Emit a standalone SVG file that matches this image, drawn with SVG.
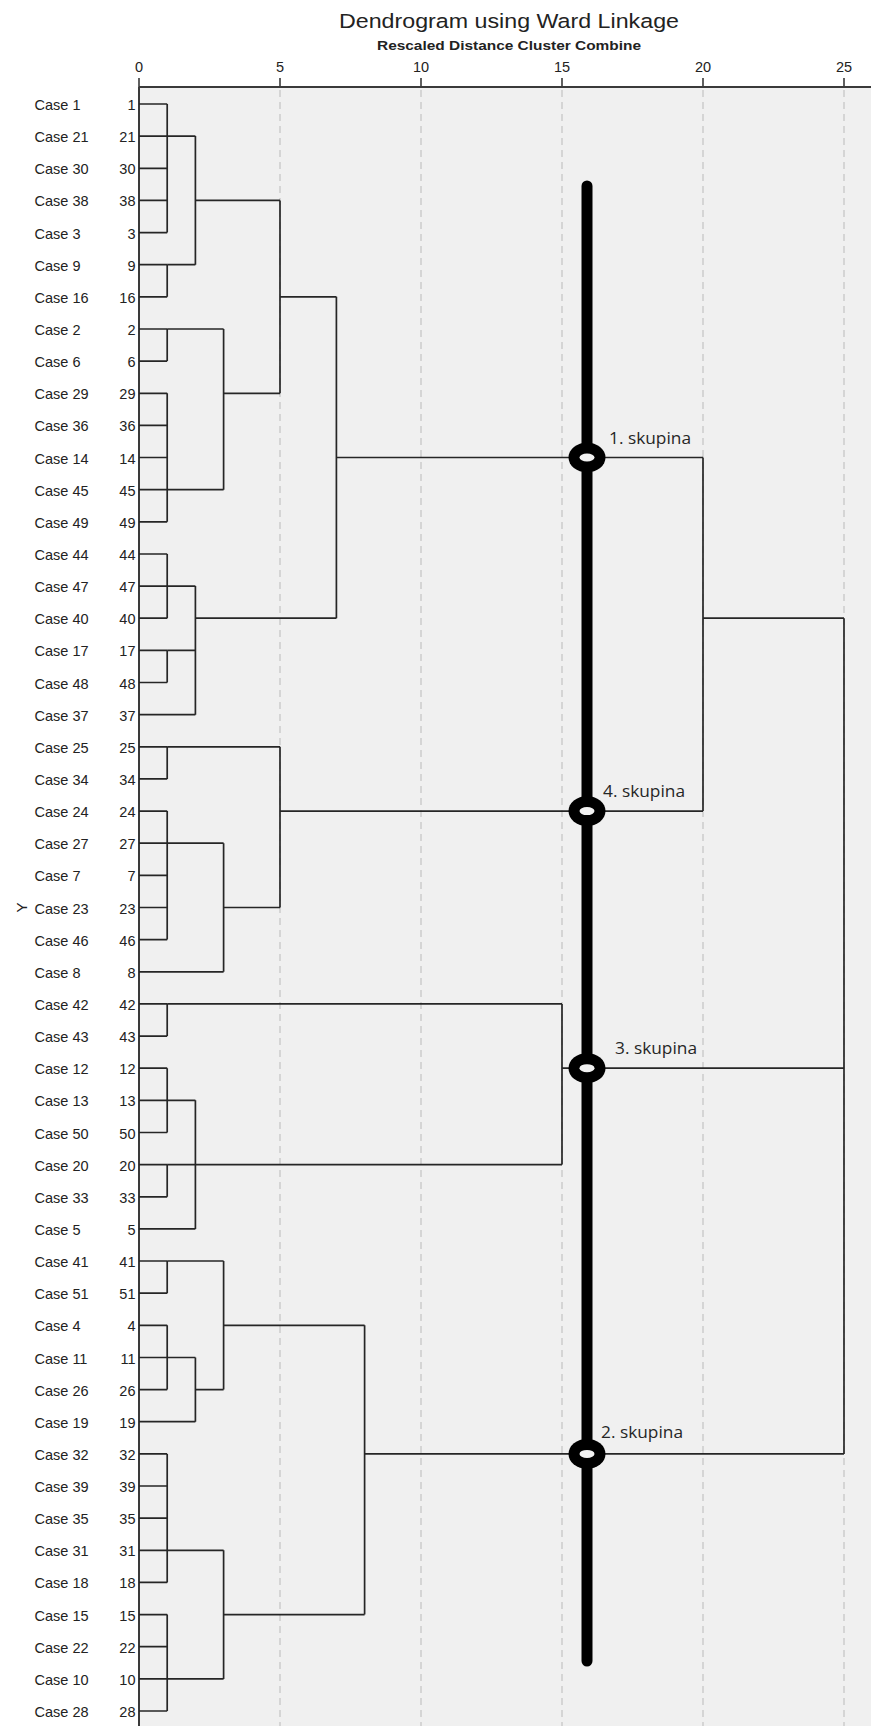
<svg xmlns="http://www.w3.org/2000/svg" width="871" height="1726" viewBox="0 0 871 1726">
<style>
text{font-family:"Liberation Sans",Arial,sans-serif;fill:#222}
.lbl text{font-size:14.5px}
.lbl .num{text-anchor:end}
.tick{font-size:14.5px;text-anchor:middle}
.grid line{stroke:#c4c4c4;stroke-width:1.2;stroke-dasharray:7 5}
.axis{stroke:#3a3a3a;stroke-width:2;fill:none}
.tk{stroke:#3a3a3a;stroke-width:1.6}
.dend path{stroke:#262626;stroke-width:1.7;fill:none}
.sk text{font-family:"Open Sans","Noto Sans",sans-serif;font-size:16px;fill:#262626}
</style>
<rect x="0" y="0" width="871" height="1726" fill="#ffffff"/>
<rect x="139" y="87" width="732" height="1639" fill="#f0f0f0"/>
<g id="grid" class="grid">
<line x1="280" y1="90" x2="280" y2="1726"/>
<line x1="421" y1="90" x2="421" y2="1726"/>
<line x1="562" y1="90" x2="562" y2="1726"/>
<line x1="703" y1="90" x2="703" y2="1726"/>
<line x1="844" y1="90" x2="844" y2="1726"/>
</g>
<g id="title">
<text x="509" y="28" font-size="20.5" text-anchor="middle" textLength="340" lengthAdjust="spacingAndGlyphs">Dendrogram using Ward Linkage</text>
<text x="509" y="50" font-size="13" font-weight="bold" text-anchor="middle" textLength="264" lengthAdjust="spacingAndGlyphs">Rescaled Distance Cluster Combine</text>
</g>
<g id="axis">
<path class="axis" d="M139 87 H871 M139 87 V1726"/>
<path class="tk" d="M139 78 V87 M280 78 V87 M421 78 V87 M562 78 V87 M703 78 V87 M844 78 V87"/>
<text class="tick" x="139" y="72">0</text>
<text class="tick" x="280" y="72">5</text>
<text class="tick" x="421" y="72">10</text>
<text class="tick" x="562" y="72">15</text>
<text class="tick" x="703" y="72">20</text>
<text class="tick" x="844" y="72">25</text>
<text x="0" y="0" font-size="15" text-anchor="middle" transform="translate(26.5,907.5) rotate(-90)">Y</text>
</g>
<g id="labels" class="lbl">
<g id="case-1"><text x="34.5" y="110">Case 1</text><text class="num" x="135.5" y="110">1</text></g>
<g id="case-21"><text x="34.5" y="142.1">Case 21</text><text class="num" x="135.5" y="142.1">21</text></g>
<g id="case-30"><text x="34.5" y="174.3">Case 30</text><text class="num" x="135.5" y="174.3">30</text></g>
<g id="case-38"><text x="34.5" y="206.4">Case 38</text><text class="num" x="135.5" y="206.4">38</text></g>
<g id="case-3"><text x="34.5" y="238.6">Case 3</text><text class="num" x="135.5" y="238.6">3</text></g>
<g id="case-9"><text x="34.5" y="270.7">Case 9</text><text class="num" x="135.5" y="270.7">9</text></g>
<g id="case-16"><text x="34.5" y="302.8">Case 16</text><text class="num" x="135.5" y="302.8">16</text></g>
<g id="case-2"><text x="34.5" y="335">Case 2</text><text class="num" x="135.5" y="335">2</text></g>
<g id="case-6"><text x="34.5" y="367.1">Case 6</text><text class="num" x="135.5" y="367.1">6</text></g>
<g id="case-29"><text x="34.5" y="399.3">Case 29</text><text class="num" x="135.5" y="399.3">29</text></g>
<g id="case-36"><text x="34.5" y="431.4">Case 36</text><text class="num" x="135.5" y="431.4">36</text></g>
<g id="case-14"><text x="34.5" y="463.5">Case 14</text><text class="num" x="135.5" y="463.5">14</text></g>
<g id="case-45"><text x="34.5" y="495.7">Case 45</text><text class="num" x="135.5" y="495.7">45</text></g>
<g id="case-49"><text x="34.5" y="527.8">Case 49</text><text class="num" x="135.5" y="527.8">49</text></g>
<g id="case-44"><text x="34.5" y="560">Case 44</text><text class="num" x="135.5" y="560">44</text></g>
<g id="case-47"><text x="34.5" y="592.1">Case 47</text><text class="num" x="135.5" y="592.1">47</text></g>
<g id="case-40"><text x="34.5" y="624.2">Case 40</text><text class="num" x="135.5" y="624.2">40</text></g>
<g id="case-17"><text x="34.5" y="656.4">Case 17</text><text class="num" x="135.5" y="656.4">17</text></g>
<g id="case-48"><text x="34.5" y="688.5">Case 48</text><text class="num" x="135.5" y="688.5">48</text></g>
<g id="case-37"><text x="34.5" y="720.7">Case 37</text><text class="num" x="135.5" y="720.7">37</text></g>
<g id="case-25"><text x="34.5" y="752.8">Case 25</text><text class="num" x="135.5" y="752.8">25</text></g>
<g id="case-34"><text x="34.5" y="784.9">Case 34</text><text class="num" x="135.5" y="784.9">34</text></g>
<g id="case-24"><text x="34.5" y="817.1">Case 24</text><text class="num" x="135.5" y="817.1">24</text></g>
<g id="case-27"><text x="34.5" y="849.2">Case 27</text><text class="num" x="135.5" y="849.2">27</text></g>
<g id="case-7"><text x="34.5" y="881.4">Case 7</text><text class="num" x="135.5" y="881.4">7</text></g>
<g id="case-23"><text x="34.5" y="913.5">Case 23</text><text class="num" x="135.5" y="913.5">23</text></g>
<g id="case-46"><text x="34.5" y="945.6">Case 46</text><text class="num" x="135.5" y="945.6">46</text></g>
<g id="case-8"><text x="34.5" y="977.8">Case 8</text><text class="num" x="135.5" y="977.8">8</text></g>
<g id="case-42"><text x="34.5" y="1009.9">Case 42</text><text class="num" x="135.5" y="1009.9">42</text></g>
<g id="case-43"><text x="34.5" y="1042.1">Case 43</text><text class="num" x="135.5" y="1042.1">43</text></g>
<g id="case-12"><text x="34.5" y="1074.2">Case 12</text><text class="num" x="135.5" y="1074.2">12</text></g>
<g id="case-13"><text x="34.5" y="1106.3">Case 13</text><text class="num" x="135.5" y="1106.3">13</text></g>
<g id="case-50"><text x="34.5" y="1138.5">Case 50</text><text class="num" x="135.5" y="1138.5">50</text></g>
<g id="case-20"><text x="34.5" y="1170.6">Case 20</text><text class="num" x="135.5" y="1170.6">20</text></g>
<g id="case-33"><text x="34.5" y="1202.8">Case 33</text><text class="num" x="135.5" y="1202.8">33</text></g>
<g id="case-5"><text x="34.5" y="1234.9">Case 5</text><text class="num" x="135.5" y="1234.9">5</text></g>
<g id="case-41"><text x="34.5" y="1267">Case 41</text><text class="num" x="135.5" y="1267">41</text></g>
<g id="case-51"><text x="34.5" y="1299.2">Case 51</text><text class="num" x="135.5" y="1299.2">51</text></g>
<g id="case-4"><text x="34.5" y="1331.3">Case 4</text><text class="num" x="135.5" y="1331.3">4</text></g>
<g id="case-11"><text x="34.5" y="1363.5">Case 11</text><text class="num" x="135.5" y="1363.5">11</text></g>
<g id="case-26"><text x="34.5" y="1395.6">Case 26</text><text class="num" x="135.5" y="1395.6">26</text></g>
<g id="case-19"><text x="34.5" y="1427.7">Case 19</text><text class="num" x="135.5" y="1427.7">19</text></g>
<g id="case-32"><text x="34.5" y="1459.9">Case 32</text><text class="num" x="135.5" y="1459.9">32</text></g>
<g id="case-39"><text x="34.5" y="1492">Case 39</text><text class="num" x="135.5" y="1492">39</text></g>
<g id="case-35"><text x="34.5" y="1524.2">Case 35</text><text class="num" x="135.5" y="1524.2">35</text></g>
<g id="case-31"><text x="34.5" y="1556.3">Case 31</text><text class="num" x="135.5" y="1556.3">31</text></g>
<g id="case-18"><text x="34.5" y="1588.4">Case 18</text><text class="num" x="135.5" y="1588.4">18</text></g>
<g id="case-15"><text x="34.5" y="1620.6">Case 15</text><text class="num" x="135.5" y="1620.6">15</text></g>
<g id="case-22"><text x="34.5" y="1652.7">Case 22</text><text class="num" x="135.5" y="1652.7">22</text></g>
<g id="case-10"><text x="34.5" y="1684.9">Case 10</text><text class="num" x="135.5" y="1684.9">10</text></g>
<g id="case-28"><text x="34.5" y="1717">Case 28</text><text class="num" x="135.5" y="1717">28</text></g>
</g>
<g id="connectors" class="dend">
<path d="M139 104 H167.2 M139 136.1 H167.2 M139 168.3 H167.2 M139 200.4 H167.2 M139 232.6 H167.2 M139 264.7 H167.2 M139 296.8 H167.2 M139 329 H167.2 M139 361.1 H167.2 M139 393.3 H167.2 M139 425.4 H167.2 M139 457.5 H167.2 M139 489.7 H167.2 M139 521.8 H167.2 M139 554 H167.2 M139 586.1 H167.2 M139 618.2 H167.2 M139 650.4 H167.2 M139 682.5 H167.2 M139 714.7 H195.4 M139 746.8 H167.2 M139 778.9 H167.2 M139 811.1 H167.2 M139 843.2 H167.2 M139 875.4 H167.2 M139 907.5 H167.2 M139 939.6 H167.2 M139 971.8 H223.6 M139 1003.9 H167.2 M139 1036.1 H167.2 M139 1068.2 H167.2 M139 1100.3 H167.2 M139 1132.5 H167.2 M139 1164.6 H167.2 M139 1196.8 H167.2 M139 1228.9 H195.4 M139 1261 H167.2 M139 1293.2 H167.2 M139 1325.3 H167.2 M139 1357.5 H167.2 M139 1389.6 H167.2 M139 1421.7 H195.4 M139 1453.9 H167.2 M139 1486 H167.2 M139 1518.2 H167.2 M139 1550.3 H167.2 M139 1582.4 H167.2 M139 1614.6 H167.2 M139 1646.7 H167.2 M139 1678.9 H167.2 M139 1711 H167.2"/>
<path d="M167.2 104 V232.6 M167.2 264.7 V296.8 M167.2 329 V361.1 M167.2 393.3 V521.8 M167.2 554 V618.2 M167.2 650.4 V682.5 M167.2 746.8 V778.9 M167.2 811.1 V939.6 M167.2 1003.9 V1036.1 M167.2 1068.2 V1132.5 M167.2 1164.6 V1196.8 M167.2 1261 V1293.2 M167.2 1325.3 V1389.6 M167.2 1453.9 V1582.4 M167.2 1614.6 V1711"/>
<path d="M167.2 136.1 H195.4 M167.2 264.7 H195.4 M167.2 329 H223.6 M167.2 489.7 H223.6 M167.2 586.1 H195.4 M167.2 650.4 H195.4 M167.2 746.8 H280 M167.2 843.2 H223.6 M167.2 1003.9 H562 M167.2 1100.3 H195.4 M167.2 1164.6 H195.4 M167.2 1261 H223.6 M167.2 1357.5 H195.4 M167.2 1550.3 H223.6 M167.2 1678.9 H223.6"/>
<path d="M195.4 136.1 V264.7 M195.4 200.4 H280 M195.4 586.1 V714.7 M195.4 618.2 H336.4 M195.4 1100.3 V1228.9 M195.4 1164.6 H562 M195.4 1357.5 V1421.7 M195.4 1389.6 H223.6"/>
<path d="M223.6 329 V489.7 M223.6 393.3 H280 M223.6 843.2 V971.8 M223.6 907.5 H280 M223.6 1261 V1389.6 M223.6 1325.3 H364.6 M223.6 1550.3 V1678.9 M223.6 1614.6 H364.6"/>
<path d="M280 200.4 V393.3 M280 296.8 H336.4 M280 746.8 V907.5 M280 811.1 H703"/>
<path d="M336.4 296.8 V618.2 M336.4 457.5 H703"/>
<path d="M364.6 1325.3 V1614.6 M364.6 1453.9 H844"/>
<path d="M562 1003.9 V1164.6 M562 1068.2 H844"/>
<path d="M703 457.5 V811.1 M703 618.2 H844"/>
<path d="M844 618.2 V1453.9"/>
</g>
<g id="cut-line">
<line x1="587" y1="186" x2="587" y2="1661" stroke="#000" stroke-width="11" stroke-linecap="round"/>
</g>
<g id="skupina-1" class="sk">
<ellipse cx="587" cy="457.5" rx="18.5" ry="15" fill="#000"/>
<ellipse cx="587" cy="457.5" rx="7.5" ry="4" fill="#f2f2f2"/>
<text x="609" y="444" textLength="82" lengthAdjust="spacingAndGlyphs">1. skupina</text>
</g>
<g id="skupina-4" class="sk">
<ellipse cx="587" cy="811.1" rx="18.5" ry="15" fill="#000"/>
<ellipse cx="587" cy="811.1" rx="7.5" ry="4" fill="#f2f2f2"/>
<text x="603" y="797" textLength="82" lengthAdjust="spacingAndGlyphs">4. skupina</text>
</g>
<g id="skupina-3" class="sk">
<ellipse cx="587" cy="1068.2" rx="18.5" ry="15" fill="#000"/>
<ellipse cx="587" cy="1068.2" rx="7.5" ry="4" fill="#f2f2f2"/>
<text x="615" y="1054" textLength="82" lengthAdjust="spacingAndGlyphs">3. skupina</text>
</g>
<g id="skupina-2" class="sk">
<ellipse cx="587" cy="1453.9" rx="18.5" ry="15" fill="#000"/>
<ellipse cx="587" cy="1453.9" rx="7.5" ry="4" fill="#f2f2f2"/>
<text x="601" y="1438" textLength="82" lengthAdjust="spacingAndGlyphs">2. skupina</text>
</g>
</svg>
